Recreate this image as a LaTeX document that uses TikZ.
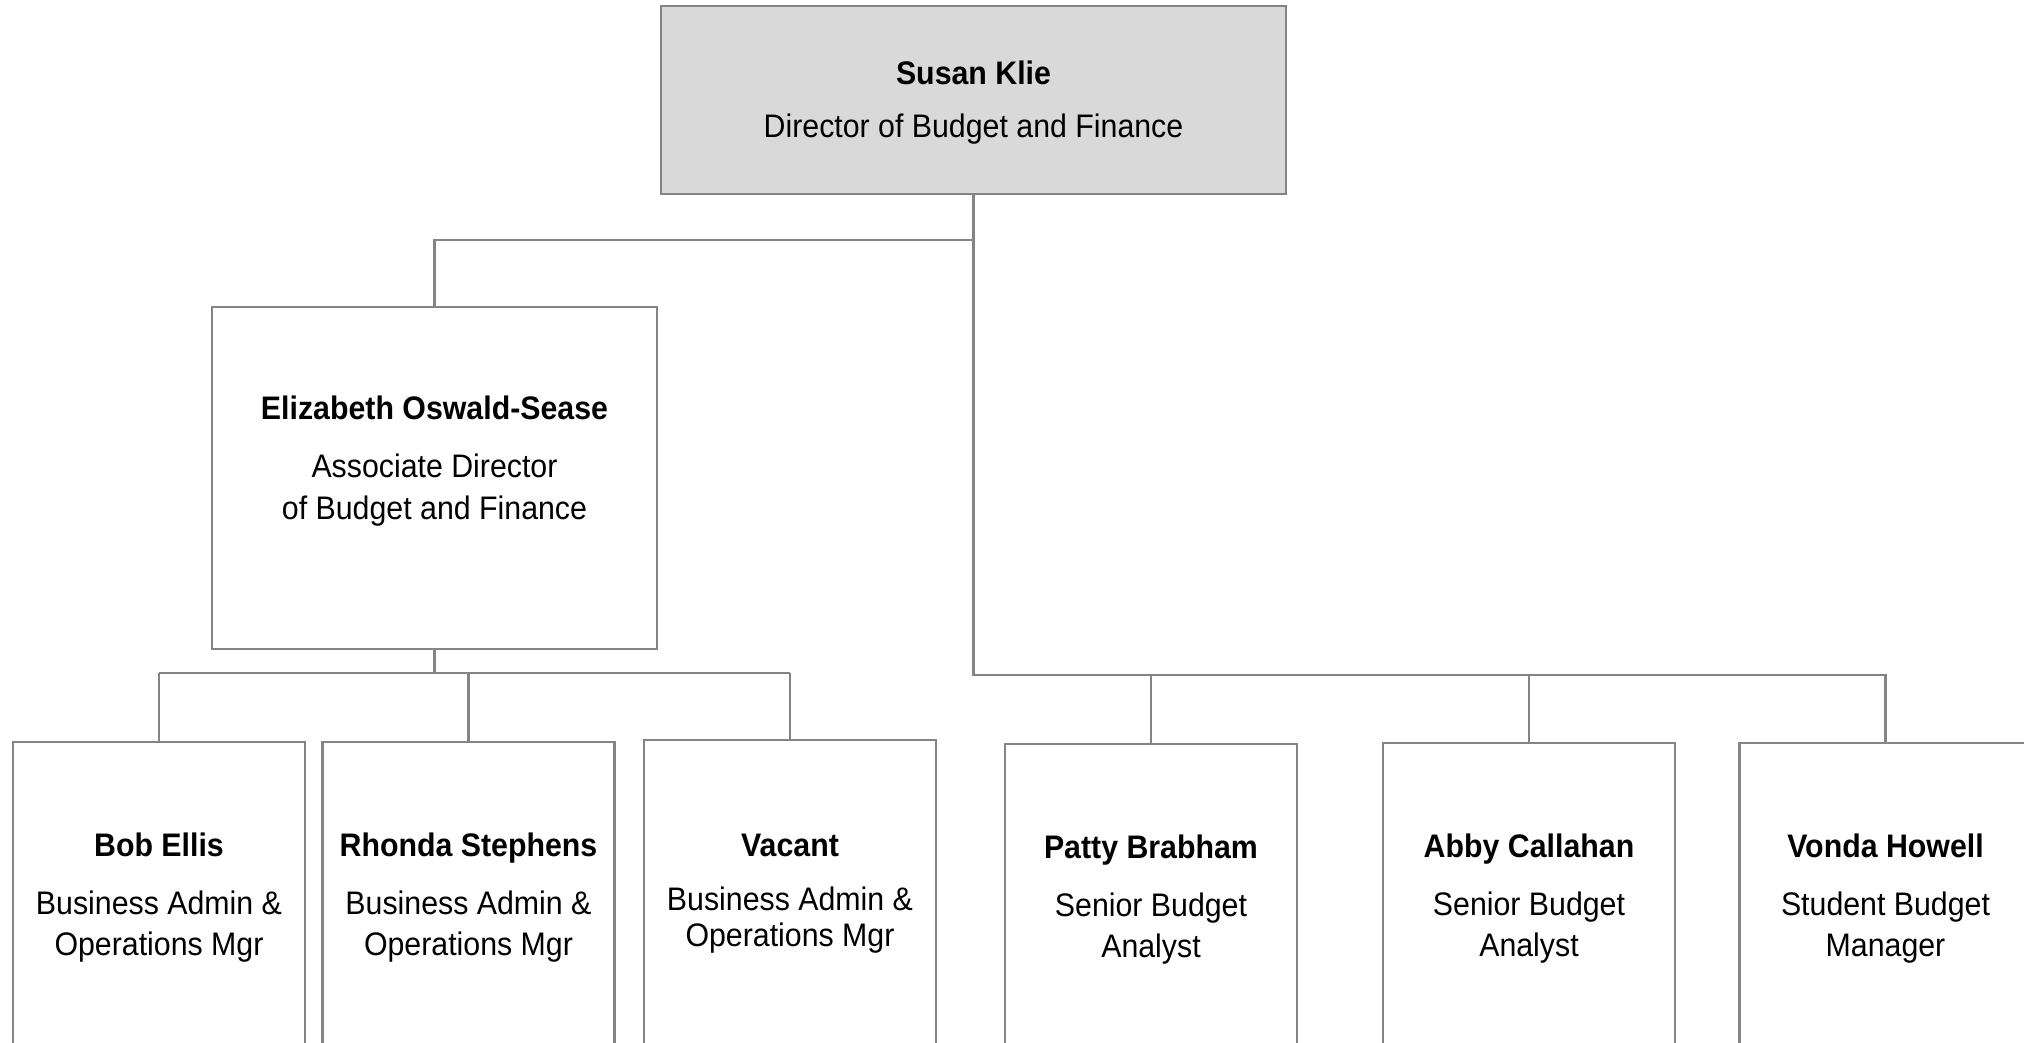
\documentclass[tikz,border=0pt]{standalone}
\usepackage{fontspec}
\setmainfont{Liberation Sans}[FakeStretch=0.93]
\usepackage{xcolor}
\usepackage{tikz}
\usetikzlibrary{calc}

\definecolor{boxline}{RGB}{132,132,132}
\definecolor{boxfill}{RGB}{217,217,217}

\begin{document}
\begin{tikzpicture}[x=0.5pt, y=-0.5pt,
  head/.style={rectangle, draw=boxline, line width=1.1pt, fill=boxfill,
    minimum width=312.5pt, minimum height=94pt, align=center, inner sep=0pt,
    font=\fontsize{16.3pt}{20.5pt}\selectfont},
  %
  person/.style ={rectangle, draw=boxline, line width=1.1pt, fill=white,
    minimum width=222.5pt, minimum height=171pt, align=center, inner sep=0pt,
    font=\fontsize{16.3pt}{21pt}\selectfont},
  %
  staff/.style ={rectangle, draw=boxline, line width=1.1pt, fill=white,
    minimum width=146pt, minimum height=158pt, align=center, inner sep=0pt,
    text depth=6pt, font=\fontsize{16.3pt}{20.5pt}\selectfont},
  %
  link/.style ={draw=boxline, line width=1.1pt}
  ]

  \useasboundingbox (0,0) rectangle (2024,1043);
  \clip (0,0) rectangle (2024,1043);

  \begin{scope}
    %%%%%%%%%%%%%%%%%%%%%%%%%%%%%%%
    \node [head, text depth=1.2pt] (director) at (973.5,100)
      {\textbf{Susan Klie}\\[6pt] Director of Budget and Finance};
    %%%%%%%%%%%%%%%%%%%%%%%%%%%%%%%
    \node [person, text depth=20pt] (assoc) at (434.5,478)
      {\textbf{Elizabeth Oswald-Sease}\\[8pt] Associate Director\\
        of Budget and Finance};
    %%%%%%%%%%%%%%%%%%%%%%%%%%%%%%%
    \node [staff] (bob) at (159,900)
      {\textbf{Bob Ellis}\\[8.5pt] Business Admin \&\\ Operations Mgr};
    \node [staff] (rhonda) at (468.5,900)
      {\textbf{Rhonda Stephens}\\[8.5pt] Business Admin \&\\ Operations Mgr};
    \node [staff, text depth=7.6pt] (vacant) at (790,898)
      {\textbf{Vacant}\\[6.5pt] Business Admin \&\\[-2.5pt] Operations Mgr};
    %%%%%%%%%%%%%%%%%%%%%%%%%%%%%%%
    \node [staff] (patty) at (1151,902)
      {\textbf{Patty Brabham}\\[8.5pt] Senior Budget\\ Analyst};
    \node [staff] (abby) at (1529,901)
      {\textbf{Abby Callahan}\\[8.5pt] Senior Budget\\ Analyst};
    \node [staff] (vonda) at (1885.5,901)
      {\textbf{Vonda Howell}\\[8.5pt] Student Budget\\ Manager};
  \end{scope}

  \begin{scope}
    \coordinate (upbus) at (0,240);
    \coordinate (lowbus) at (0,673);
    \coordinate (rightbus) at (0,675);
    \draw [link] (director.south) |- (upbus -| assoc.north) -- (assoc.north);
    \draw [link] (director.south) |- (rightbus -| vonda.north) -- (vonda.north);
    \draw [link] (assoc.south) -- (assoc.south |- lowbus);
    \draw [link] (lowbus -| bob.north) -- (lowbus -| vacant.north);
    \foreach \who in {bob, rhonda, vacant}
      \draw [link] (lowbus -| \who.north) -- (\who.north);
    \foreach \who in {patty, abby}
      \draw [link] (rightbus -| \who.north) -- (\who.north);
  \end{scope}

\end{tikzpicture}
\end{document}
